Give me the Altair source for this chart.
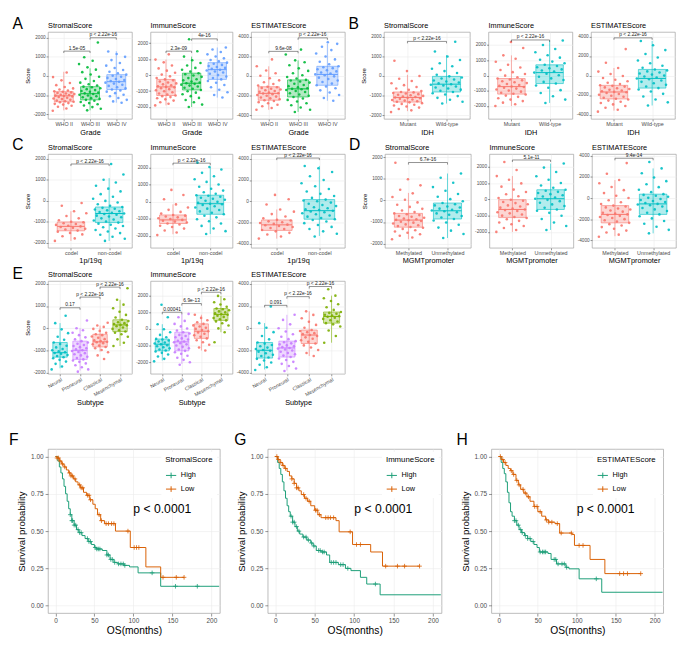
import json
import altair as alt
import pandas as pd

FONT = "Liberation Sans"

# ---------------- categories & colours ----------------
GRADE = ["WHO II", "WHO III", "WHO IV"]
IDH = ["Mutant", "Wild-type"]
CODEL = ["codel", "non-codel"]
MGMT = ["Methylated", "Unmethylated"]
SUBTYPE = ["Neural", "Proneural", "Classical", "Mesenchymal"]
COL3 = ["#F8766D", "#00BA38", "#619CFF"]
COL2 = ["#F8766D", "#00BFC4"]
COL4 = ["#00BFC4", "#C77CFF", "#F8766D", "#7CAE00"]
KM_COLORS = ["#1B9E77", "#D95F02"]

TICK_2K = [-2000, -1000, 0, 1000, 2000]
TICK_4K = [-4000, -2000, 0, 2000, 4000]

# ---------------- A: Grade ----------------
A_STR_BOX = [[-1800, -1350, -1040, -820, 220], [-1800, -1250, -930, -560, 400], [-1400, -710, -300, 70, 1300]]
A_STR_PTS = [
    [-1820, -1700, -1610, -1560, -1500, -1460, -1420, -1380, -1350, -1320, -1290, -1250, -1210, -1180, -1140, -1100, -1070, -1050, -1030, -1000, -980, -950, -920, -890, -860, -830, -800, -760, -710, -650, -580, -480, -370, -230, -60, 180],
    [-1800, -1720, -1630, -1550, -1480, -1420, -1360, -1300, -1250, -1200, -1160, -1110, -1060, -1020, -980, -940, -910, -870, -830, -790, -740, -690, -640, -590, -560, -500, -430, -350, -260, -150, -40, 80, 200, 330, 450, 620, 800, 980, 1750],
    [-1400, -1330, -1250, -1150, -1060, -980, -900, -820, -760, -710, -650, -590, -520, -460, -400, -350, -300, -260, -210, -160, -100, -40, 10, 70, 140, 220, 310, 420, 540, 680, 830, 1000, 1150, 1280]]
A_STR_SIG = [[1, 2, 1300, "1.5e-05"], [2, 3, 2000, "p < 2.22e-16"]]

A_IMM_BOX = [[-1900, -1280, -740, -270, 970], [-2000, -930, -510, 120, 1160], [-1410, -270, 340, 780, 1730]]
A_IMM_PTS = [
    [-1900, -1800, -1700, -1600, -1520, -1450, -1380, -1320, -1280, -1220, -1150, -1080, -1010, -950, -880, -820, -770, -740, -700, -640, -580, -520, -460, -400, -330, -270, -180, -80, 30, 150, 280, 420, 600, 800, 970, 1300],
    [-2000, -1850, -1700, -1560, -1430, -1320, -1200, -1100, -1010, -930, -860, -790, -720, -660, -600, -550, -510, -460, -400, -330, -260, -190, -110, -30, 50, 120, 220, 330, 450, 600, 760, 930, 1160, 1500, 2250],
    [-1410, -1250, -1080, -920, -760, -620, -480, -370, -270, -180, -90, 0, 80, 160, 230, 290, 340, 390, 450, 510, 570, 640, 710, 780, 860, 950, 1050, 1170, 1300, 1450, 1600, 1730]]
A_IMM_SIG = [[1, 2, 1500, "2.3e-09"], [2, 3, 2270, "4e-16"]]

A_EST_BOX = [[-3460, -2480, -1780, -1100, 990], [-3680, -2150, -1320, -400, 1600], [-2540, -950, 160, 990, 3290]]
A_EST_PTS = [
    [-3460, -3280, -3100, -2950, -2800, -2680, -2570, -2480, -2380, -2290, -2200, -2110, -2020, -1940, -1860, -1800, -1760, -1700, -1620, -1540, -1460, -1380, -1300, -1220, -1150, -1100, -980, -820, -640, -450, -230, 20, 280, 560, 990, 1700],
    [-3680, -3450, -3220, -3000, -2800, -2620, -2450, -2300, -2150, -2020, -1890, -1760, -1640, -1530, -1430, -1360, -1320, -1250, -1150, -1040, -920, -800, -680, -560, -470, -400, -260, -100, 80, 280, 520, 780, 1100, 1400, 1600, 2200, 2700],
    [-2540, -2250, -1950, -1700, -1470, -1250, -1080, -950, -780, -620, -460, -310, -170, -40, 80, 160, 250, 360, 470, 580, 690, 800, 900, 990, 1200, 1450, 1700, 2000, 2300, 2650, 3000, 3290, 3450]]
A_EST_SIG = [[1, 2, 2520, "9.6e-08"], [2, 3, 3900, "p < 2.22e-16"]]

# ---------------- B: IDH ----------------
B_STR_BOX = [[-1800, -1335, -1100, -820, 60], [-1410, -820, -420, -20, 1070]]
B_STR_PTS = [
    [-1850, -1760, -1690, -1620, -1560, -1510, -1470, -1430, -1390, -1350, -1320, -1290, -1260, -1230, -1200, -1170, -1140, -1120, -1100, -1080, -1050, -1020, -990, -960, -930, -900, -870, -840, -820, -770, -710, -640, -560, -470, -370, -260, -140, 0, 250, 780],
    [-1410, -1320, -1220, -1120, -1030, -950, -880, -820, -760, -700, -640, -590, -540, -490, -450, -420, -380, -330, -280, -230, -180, -130, -80, -20, 60, 150, 250, 370, 500, 650, 820, 1000, 1250, 1750]]
B_STR_SIG = [[1, 2, 1770, "p < 2.22e-16"]]

B_IMM_BOX = [[-2000, -1220, -730, -200, 1320], [-1800, -530, 190, 700, 2290]]
B_IMM_PTS = [
    [-2000, -1890, -1780, -1680, -1580, -1490, -1400, -1320, -1250, -1200, -1130, -1060, -990, -920, -860, -800, -750, -720, -680, -620, -560, -500, -440, -380, -320, -260, -200, -110, -10, 100, 220, 360, 520, 700, 900, 1100, 1320, 1800, 2200],
    [-1800, -1580, -1360, -1150, -960, -800, -660, -530, -420, -300, -190, -80, 20, 110, 190, 260, 330, 400, 470, 540, 620, 700, 800, 910, 1030, 1170, 1330, 1520, 1740, 2000, 2290]]
B_IMM_SIG = [[1, 2, 2330, "p < 2.22e-16"]]

B_EST_BOX = [[-3600, -2400, -1690, -1010, 770], [-3070, -1290, -300, 620, 3540]]
B_EST_PTS = [
    [-3700, -3500, -3300, -3120, -2960, -2820, -2690, -2570, -2460, -2380, -2280, -2180, -2080, -1980, -1890, -1800, -1720, -1680, -1620, -1540, -1460, -1380, -1300, -1220, -1140, -1060, -1000, -880, -740, -590, -430, -250, -60, 150, 400, 770, 1300, 2700],
    [-3070, -2750, -2450, -2150, -1880, -1640, -1440, -1290, -1120, -960, -800, -650, -510, -390, -300, -210, -110, -10, 90, 200, 310, 420, 520, 620, 800, 1000, 1250, 1530, 1850, 2200, 2600, 3100, 3540]]
B_EST_SIG = [[1, 2, 3850, "p < 2.22e-16"]]

# ---------------- C: 1p/19q ----------------
C_STR_BOX = [[-1900, -1420, -1210, -1000, -490], [-1900, -1030, -600, -290, 1080]]
C_STR_PTS = [
    [-1900, -1780, -1680, -1590, -1520, -1460, -1410, -1360, -1320, -1280, -1240, -1210, -1180, -1140, -1100, -1060, -1020, -990, -920, -830, -720, -590, -490, -230, -100],
    [-1900, -1800, -1700, -1610, -1530, -1450, -1380, -1310, -1250, -1190, -1130, -1080, -1030, -980, -930, -880, -830, -780, -740, -700, -660, -620, -600, -570, -530, -490, -450, -410, -370, -330, -290, -230, -160, -80, 0, 100, 200, 320, 450, 580, 720, 870, 1000, 1250, 1750]]
C_STR_SIG = [[1, 2, 1750, "p < 2.22e-16"]]

C_IMM_BOX = [[-1900, -1270, -1060, -770, -150], [-1890, -730, -110, 390, 2040]]
C_IMM_PTS = [
    [-1950, -1800, -1680, -1570, -1480, -1400, -1330, -1270, -1210, -1160, -1110, -1060, -1010, -960, -910, -860, -810, -770, -690, -590, -470, -330, -150, 150, 400, 700],
    [-1890, -1720, -1560, -1410, -1270, -1140, -1020, -910, -820, -730, -640, -560, -480, -400, -330, -260, -190, -140, -110, -60, 0, 60, 120, 180, 240, 300, 360, 390, 470, 560, 660, 770, 890, 1020, 1170, 1330, 1500, 1700, 1900, 2040, 2300]]
C_IMM_SIG = [[1, 2, 2270, "p < 2.22e-16"]]

C_EST_BOX = [[-3500, -2730, -2210, -1750, -770], [-3250, -1680, -880, 160, 3320]]
C_EST_PTS = [
    [-3500, -3300, -3120, -2960, -2820, -2700, -2600, -2500, -2410, -2320, -2240, -2190, -2120, -2040, -1960, -1880, -1800, -1740, -1600, -1420, -1200, -970, -770, -300, 200, 600],
    [-3300, -3050, -2820, -2600, -2400, -2220, -2050, -1900, -1760, -1680, -1560, -1440, -1330, -1220, -1120, -1030, -950, -880, -820, -740, -650, -550, -450, -340, -230, -120, 0, 80, 160, 320, 500, 700, 920, 1160, 1420, 1700, 2000, 2350, 2750, 3100, 3320]]
C_EST_SIG = [[1, 2, 4060, "p < 2.22e-16"]]

# ---------------- D: MGMT promoter ----------------
D_STR_BOX = [[-1800, -1240, -910, -600, 350], [-1740, -860, -480, -120, 1250]]
D_STR_PTS = [
    [-1800, -1720, -1640, -1570, -1500, -1440, -1380, -1320, -1270, -1230, -1190, -1150, -1110, -1070, -1030, -990, -950, -920, -900, -870, -840, -800, -760, -720, -680, -640, -600, -540, -470, -390, -300, -200, -90, 30, 160, 330, 500, 700, 980, 1750],
    [-1740, -1560, -1400, -1260, -1130, -1020, -930, -860, -790, -720, -660, -600, -550, -500, -470, -430, -380, -330, -280, -230, -180, -120, -40, 60, 170, 300, 450, 620, 820, 1050, 1250]]
D_STR_SIG = [[1, 2, 1760, "6.7e-16"]]

D_IMM_BOX = [[-2000, -1120, -620, -20, 1430], [-1880, -620, 40, 590, 2200]]
D_IMM_PTS = [
    [-2000, -1880, -1760, -1640, -1530, -1420, -1320, -1220, -1150, -1080, -1000, -930, -860, -790, -720, -660, -620, -570, -510, -440, -370, -300, -230, -160, -90, -20, 80, 190, 310, 450, 600, 780, 980, 1200, 1430, 1800, 2300],
    [-1880, -1640, -1420, -1210, -1010, -830, -700, -620, -520, -410, -310, -210, -110, -30, 40, 110, 180, 250, 320, 390, 460, 530, 590, 710, 850, 1010, 1200, 1420, 1680, 1950, 2200]]
D_IMM_SIG = [[1, 2, 2420, "5.1e-11"]]

D_EST_BOX = [[-3600, -2340, -1540, -710, 1700], [-3330, -1540, -550, 370, 2800]]
D_EST_PTS = [
    [-3650, -3450, -3250, -3070, -2900, -2740, -2590, -2460, -2340, -2220, -2100, -1990, -1880, -1780, -1680, -1600, -1540, -1470, -1380, -1280, -1180, -1080, -980, -880, -790, -710, -560, -390, -200, 0, 220, 470, 750, 1050, 1400, 1700, 2300, 3300],
    [-3330, -3000, -2700, -2420, -2160, -1920, -1720, -1540, -1380, -1220, -1070, -930, -800, -680, -600, -550, -470, -380, -280, -180, -80, 20, 120, 220, 300, 370, 560, 780, 1030, 1300, 1600, 1950, 2350, 2800, 3400]]
D_EST_SIG = [[1, 2, 3760, "9.4e-14"]]

# ---------------- E: Subtype ----------------
E_STR_BOX = [[-1800, -1300, -1100, -640, 230], [-1900, -1400, -990, -580, 0], [-1050, -840, -610, -270, 120], [-800, -150, 150, 380, 1280]]
E_STR_PTS = [
    [-1850, -1720, -1600, -1500, -1420, -1350, -1300, -1250, -1200, -1150, -1110, -1080, -1040, -990, -930, -860, -790, -710, -640, -520, -380, -220, -50, 230, 560],
    [-1950, -1850, -1750, -1660, -1580, -1510, -1450, -1400, -1340, -1280, -1220, -1170, -1120, -1070, -1020, -990, -950, -900, -850, -800, -750, -700, -640, -580, -500, -410, -310, -200, -90, 0, 350],
    [-1380, -1220, -1080, -980, -900, -840, -780, -720, -670, -630, -610, -580, -540, -490, -430, -370, -310, -270, -200, -120, -30, 60, 120, 250],
    [-800, -650, -500, -380, -270, -200, -150, -90, -30, 30, 90, 130, 150, 190, 230, 270, 320, 380, 480, 600, 740, 900, 1060, 1280, 1800]]
E_STR_SIG = [[1, 2, 920, "0.17"], [2, 3, 1400, "p < 2.22e-16"], [3, 4, 1850, "p < 2.22e-16"]]

E_IMM_BOX = [[-1900, -1320, -920, -610, 280], [-2100, -1320, -780, -200, 900], [-1300, -570, -140, 300, 850], [-200, 510, 870, 1220, 1980]]
E_IMM_PTS = [
    [-1950, -1800, -1660, -1540, -1440, -1360, -1300, -1240, -1170, -1100, -1040, -980, -930, -880, -820, -760, -700, -640, -600, -500, -360, -200, -20, 280, 700, 1450],
    [-2150, -2000, -1860, -1730, -1610, -1500, -1400, -1320, -1240, -1160, -1080, -1000, -930, -860, -800, -760, -710, -640, -570, -500, -430, -360, -280, -200, -100, 20, 150, 300, 480, 700, 900],
    [-1300, -1120, -950, -800, -680, -570, -470, -380, -290, -210, -140, -70, 0, 70, 140, 210, 300, 400, 520, 660, 850],
    [-800, -200, 30, 200, 340, 450, 510, 580, 650, 720, 790, 850, 880, 930, 990, 1050, 1120, 1180, 1220, 1330, 1460, 1600, 1780, 1980]]
E_IMM_SIG = [[1, 2, 1000, "0.00041"], [2, 3, 1520, "6.9e-13"], [3, 4, 2200, "p < 2.22e-16"]]

E_EST_BOX = [[-3700, -2680, -1980, -1280, 460], [-3800, -2590, -1770, -1160, 1210], [-2500, -1370, -610, -160, 1520], [-1300, 460, 1060, 1460, 2930]]
E_EST_PTS = [
    [-3750, -3500, -3280, -3080, -2900, -2750, -2630, -2500, -2380, -2250, -2120, -2020, -1950, -1860, -1740, -1620, -1500, -1380, -1280, -1000, -700, -350, 50, 460, 1950],
    [-3850, -3620, -3400, -3200, -3020, -2860, -2720, -2590, -2460, -2340, -2220, -2110, -2000, -1910, -1830, -1770, -1700, -1620, -1540, -1450, -1360, -1260, -1160, -980, -770, -540, -290, 0, 350, 750, 1210],
    [-2500, -2220, -1960, -1730, -1540, -1370, -1220, -1080, -950, -820, -700, -610, -530, -440, -350, -250, -160, 50, 300, 580, 900, 1200, 1520],
    [-1300, -700, -200, 150, 350, 460, 600, 720, 840, 950, 1030, 1080, 1140, 1220, 1300, 1380, 1460, 1650, 1880, 2150, 2450, 2700, 2930, 3500]]
E_EST_SIG = [[1, 2, 2060, "0.091"], [2, 3, 2840, "p < 2.22e-16"], [3, 4, 3750, "p < 2.22e-16"]]

# ---------------- F/G/H: Kaplan-Meier (step points, censor times) ----------------
F_HIGH_T = [0, 3, 5, 7, 9, 11, 13, 15, 17, 19, 21, 24, 27, 30, 34, 38, 42, 46, 50, 53, 60, 66, 70, 75, 80, 88, 95, 106, 135, 210]
F_HIGH_S = [1.0, 0.97, 0.93, 0.89, 0.85, 0.80, 0.75, 0.70, 0.65, 0.61, 0.57, 0.54, 0.51, 0.49, 0.47, 0.45, 0.43, 0.41, 0.39, 0.38, 0.37, 0.34, 0.31, 0.29, 0.28, 0.27, 0.26, 0.22, 0.13, 0.13]
F_HIGH_C = [19, 21, 22, 24, 26, 29, 31, 33, 41, 43, 45, 51, 53, 55, 57, 66, 68, 71, 73, 76, 81, 84, 87, 89, 124, 154, 182]
F_LOW_T = [0, 2, 5, 8, 11, 14, 17, 20, 23, 26, 29, 32, 36, 40, 44, 48, 51, 54, 58, 63, 77, 96, 116, 135, 165]
F_LOW_S = [1.0, 0.99, 0.97, 0.95, 0.93, 0.91, 0.89, 0.87, 0.85, 0.83, 0.81, 0.79, 0.76, 0.74, 0.71, 0.68, 0.65, 0.61, 0.57, 0.55, 0.50, 0.39, 0.26, 0.19, 0.19]
F_LOW_C = [2, 4, 6, 9, 12, 18, 20, 22, 25, 31, 33, 35, 41, 43, 45, 56, 59, 65, 68, 72, 75, 93, 101, 104, 107, 138, 155, 165]

G_HIGH_T = [0, 3, 5, 7, 9, 11, 13, 15, 17, 19, 22, 25, 28, 31, 35, 40, 45, 48, 52, 58, 65, 69, 80, 89, 96, 108, 116, 133, 210]
G_HIGH_S = [1.0, 0.96, 0.92, 0.88, 0.83, 0.77, 0.72, 0.67, 0.63, 0.60, 0.56, 0.53, 0.50, 0.48, 0.46, 0.44, 0.42, 0.40, 0.37, 0.36, 0.34, 0.29, 0.275, 0.25, 0.235, 0.19, 0.145, 0.073, 0.073]
G_HIGH_C = [20, 22, 24, 27, 30, 36, 39, 42, 46, 49, 55, 57, 60, 62, 71, 74, 77, 83, 86, 92, 127]
G_LOW_T = [0, 3, 6, 9, 12, 15, 18, 21, 24, 27, 30, 33, 37, 41, 45, 50, 54, 58, 77, 81, 98, 121, 136, 183]
G_LOW_S = [1.0, 0.98, 0.96, 0.94, 0.92, 0.90, 0.87, 0.85, 0.82, 0.79, 0.77, 0.745, 0.72, 0.70, 0.67, 0.64, 0.61, 0.59, 0.57, 0.495, 0.41, 0.36, 0.265, 0.265]
G_LOW_C = [2, 4, 7, 10, 13, 21, 24, 27, 29, 36, 39, 43, 51, 53, 56, 64, 67, 70, 74, 95, 103, 108, 140, 155, 164, 183]

H_HIGH_T = [0, 3, 5, 7, 9, 11, 13, 15, 17, 20, 23, 26, 29, 33, 37, 41, 45, 49, 52, 63, 67, 74, 86, 90, 103, 132, 210]
H_HIGH_S = [1.0, 0.96, 0.92, 0.885, 0.83, 0.76, 0.69, 0.63, 0.60, 0.57, 0.54, 0.51, 0.49, 0.47, 0.45, 0.43, 0.41, 0.39, 0.36, 0.35, 0.31, 0.28, 0.257, 0.247, 0.18, 0.09, 0.09]
H_HIGH_C = [20, 22, 25, 28, 30, 34, 37, 40, 44, 53, 56, 58, 60, 71, 73, 76, 81, 84, 87, 125]
H_LOW_T = [0, 3, 6, 9, 12, 15, 18, 22, 25, 28, 32, 36, 40, 45, 50, 55, 60, 64, 72, 78, 94, 97, 117, 136, 182]
H_LOW_S = [1.0, 0.98, 0.96, 0.94, 0.92, 0.905, 0.88, 0.84, 0.81, 0.78, 0.755, 0.73, 0.70, 0.665, 0.63, 0.60, 0.575, 0.56, 0.55, 0.487, 0.477, 0.404, 0.31, 0.215, 0.215]
H_LOW_C = [2, 5, 8, 16, 19, 23, 26, 31, 34, 38, 46, 49, 53, 61, 64, 68, 75, 80, 93, 103, 108, 155, 160, 165, 182]

P_TEXT = "p < 0.0001"
P_POS = [137, 0.645]

PLUS_PATH = "M-1,0L1,0M0,-1L0,1"
LEG_PATH = "M-1,0L1,0M0,-0.55L0,0.55"


def text_layer(txt, dx, dy, size, align, baseline):
    return alt.Chart(pd.DataFrame({"t": [txt]})).mark_text(
        fontSize=size, align=align, baseline=baseline, color="black",
        fontWeight="normal").encode(
        text="t:N", x=alt.value(dx), y=alt.value(dy))


def box_panel(title, cats, colors, box, pts, sig, ydom, yvals, xtitle, w, h,
              ytitle=None, letter=None, letter_dy=-9, title_dy=-2, rotate=False):
    n = len(cats)
    prow = []
    for i, vals in enumerate(pts):
        for k, v in enumerate(vals):
            j = ((k * 0.618034 + i * 0.37) % 1.0) * 2 - 1
            prow.append({"colour": colors[i], "xj": i + 1 + 0.42 * j, "score": v})
    pdf = pd.DataFrame(prow)
    brow = []
    for i, (lo, q1, md, q3, hi) in enumerate(box):
        brow.append({"colour": colors[i], "x": i + 1, "xl": i + 1 - 0.36, "xr": i + 1 + 0.36,
                     "lo": lo, "q1": q1, "md": md, "q3": q3, "hi": hi})
    bdf = pd.DataFrame(brow)
    tip = 0.022 * (ydom[1] - ydom[0])
    srow, trow = [], []
    for a, b, y, lab in sig:
        srow.append({"x": a, "x2": b, "y": y, "y2": y})
        srow.append({"x": a, "x2": a, "y": y - tip, "y2": y})
        srow.append({"x": b, "x2": b, "y": y - tip, "y2": y})
        trow.append({"x": (a + b) / 2, "y": y, "label": lab})
    sdf = pd.DataFrame(srow)
    tdf = pd.DataFrame(trow)

    xs = alt.Scale(domain=[0.4, n + 0.6], nice=False, zero=False)
    ys = alt.Scale(domain=ydom, nice=False, zero=False)
    xaxis_kw = dict(values=list(range(1, n + 1)),
                    labelExpr=json.dumps(cats) + "[datum.value - 1]",
                    title=xtitle, grid=True, tickSize=2, labelPadding=1,
                    labelFontSize=5.5, titleFontSize=7.5, titlePadding=1,
                    titleFontWeight="normal",
                    labelOverlap=False, labelBaseline="top")
    if rotate:
        xaxis_kw.update(labelAngle=330, labelAlign="right", labelFontSize=5.3)
    xaxis = alt.Axis(**xaxis_kw)
    yaxis = alt.Axis(values=yvals, labelExpr="'' + datum.value", title=ytitle,
                     grid=True, tickSize=2, labelPadding=1, labelFontSize=4.8,
                     titleFontSize=6.2, titlePadding=3, titleFontWeight="normal")

    def X(f):
        return alt.X(f, scale=xs, axis=xaxis)

    def Y(f):
        return alt.Y(f, scale=ys, axis=yaxis)

    col = alt.Color("colour:N", scale=None)
    points = alt.Chart(pdf).mark_circle(size=7, opacity=0.9).encode(
        x=X("xj:Q"), y=Y("score:Q"), color=col)
    whisk = alt.Chart(bdf).mark_rule(strokeWidth=0.6).encode(
        x=X("x:Q"), y=Y("lo:Q"), y2="hi:Q", color=col)
    boxes = alt.Chart(bdf).mark_rect(fillOpacity=0.3, strokeWidth=0.6).encode(
        x=X("xl:Q"), x2="xr:Q", y=Y("q1:Q"), y2="q3:Q",
        fill=alt.Fill("colour:N", scale=None),
        stroke=alt.Stroke("colour:N", scale=None))
    med = alt.Chart(bdf).mark_rule(strokeWidth=1).encode(
        x=X("xl:Q"), x2="xr:Q", y=Y("md:Q"), color=col)
    brk = alt.Chart(sdf).mark_rule(color="#222222", strokeWidth=0.5).encode(
        x=X("x:Q"), x2="x2:Q", y=Y("y:Q"), y2="y2:Q")
    btxt = alt.Chart(tdf).mark_text(fontSize=5, baseline="bottom", dy=-0.5,
                                    color="#222222").encode(
        x=X("x:Q"), y=Y("y:Q"), text="label:N")
    layers = [points, whisk, boxes, med, brk, btxt,
              text_layer(title, 0, title_dy, 7.5, "left", "bottom")]
    if letter:
        layers.append(text_layer(letter, -31, letter_dy, 16, "center", "middle"))
    return alt.layer(*layers).properties(width=w, height=h)


def step_at(ts, ss, t):
    v = ss[0]
    for tt, s in zip(ts, ss):
        if tt <= t:
            v = s
    return v


def km_panel(name, ht, hs, hc, lt, ls, lc, letter, w, h, letter_dx=-31):
    crow = [{"grp": "High", "t": t, "s": s} for t, s in zip(ht, hs)]
    crow += [{"grp": "Low", "t": t, "s": s} for t, s in zip(lt, ls)]
    cdf = pd.DataFrame(crow)
    drow = [{"grp": "High", "t": t, "s": step_at(ht, hs, t)} for t in hc]
    drow += [{"grp": "Low", "t": t, "s": step_at(lt, ls, t)} for t in lc]
    ddf = pd.DataFrame(drow)
    xs = alt.Scale(domain=[-9.5, 211], nice=False, zero=False)
    ys = alt.Scale(domain=[-0.05, 1.05], nice=False, zero=False)
    cs = alt.Scale(domain=["High", "Low"], range=KM_COLORS)
    xaxis = alt.Axis(values=[0, 50, 100, 150, 200], title="OS(months)", grid=True,
                     tickSize=3, labelPadding=2, labelFontSize=6.6, titleFontSize=10.5,
                     titlePadding=1, titleFontWeight="normal")
    yaxis = alt.Axis(values=[0, 0.25, 0.5, 0.75, 1.0], format=".2f",
                     title="Survival probability", grid=True, tickSize=3,
                     labelPadding=2, labelFontSize=6.6, titleFontSize=9.8, titlePadding=4,
                     titleFontWeight="normal")
    leg = alt.Legend(title=name, orient="top-right", offset=3, padding=4,
                     fillColor="white", titleFontSize=8, titleFontWeight="normal",
                     titleColor="black", labelFontSize=7.5, labelColor="black",
                     symbolType=LEG_PATH, symbolSize=110, symbolStrokeWidth=1,
                     rowPadding=3, titlePadding=6)
    col = alt.Color("grp:N", scale=cs, legend=leg)
    line = alt.Chart(cdf).mark_line(interpolate="step-after", strokeWidth=1).encode(
        x=alt.X("t:Q", scale=xs, axis=xaxis), y=alt.Y("s:Q", scale=ys, axis=yaxis),
        color=col)
    cens = alt.Chart(ddf).mark_point(shape=PLUS_PATH, size=22, strokeWidth=0.8,
                                     filled=False, opacity=1).encode(
        x=alt.X("t:Q", scale=xs, axis=xaxis), y=alt.Y("s:Q", scale=ys, axis=yaxis),
        color=col)
    ptxt = alt.Chart(pd.DataFrame({"t": [P_POS[0]], "s": [P_POS[1]], "label": [P_TEXT]})).mark_text(
        fontSize=12.5, color="black").encode(
        x=alt.X("t:Q", scale=xs, axis=xaxis), y=alt.Y("s:Q", scale=ys, axis=yaxis),
        text="label:N")
    let = text_layer(letter, letter_dx, -9, 16, "center", "middle")
    return alt.layer(line, cens, ptxt, let).properties(width=w, height=h)


H1, H2, H3, H4 = 89, 96, 95, 168
WA = [86, 84, 96]
WB = [88, 86, 86]

row1 = alt.hconcat(
    box_panel("StromalScore", GRADE, COL3, A_STR_BOX, A_STR_PTS, A_STR_SIG, [-2250, 2300], TICK_2K, "Grade", WA[0], H1, ytitle="Score", letter="A", letter_dy=-8),
    box_panel("ImmuneScore", GRADE, COL3, A_IMM_BOX, A_IMM_PTS, A_IMM_SIG, [-2750, 2700], TICK_2K, "Grade", WA[1], H1),
    box_panel("ESTIMATEScore", GRADE, COL3, A_EST_BOX, A_EST_PTS, A_EST_SIG, [-4400, 4500], TICK_4K, "Grade", WA[2], H1),
    box_panel("StromalScore", IDH, COL2, B_STR_BOX, B_STR_PTS, B_STR_SIG, [-2200, 2250], TICK_2K, "IDH", WB[0], H1, ytitle="Score", letter="B", letter_dy=-8),
    box_panel("ImmuneScore", IDH, COL2, B_IMM_BOX, B_IMM_PTS, B_IMM_SIG, [-2850, 2850], TICK_2K, "IDH", WB[1], H1),
    box_panel("ESTIMATEScore", IDH, COL2, B_EST_BOX, B_EST_PTS, B_EST_SIG, [-4450, 4450], TICK_4K, "IDH", WB[2], H1),
    spacing=2)

row2 = alt.hconcat(
    box_panel("StromalScore", CODEL, COL2, C_STR_BOX, C_STR_PTS, C_STR_SIG, [-2230, 2220], TICK_2K, "1p/19q", WA[0], H2, ytitle="Score", letter="C", letter_dy=-9),
    box_panel("ImmuneScore", CODEL, COL2, C_IMM_BOX, C_IMM_PTS, C_IMM_SIG, [-2700, 2800], TICK_2K, "1p/19q", WA[1], H2),
    box_panel("ESTIMATEScore", CODEL, COL2, C_EST_BOX, C_EST_PTS, C_EST_SIG, [-4370, 4430], TICK_4K, "1p/19q", WA[2], H2),
    box_panel("StromalScore", MGMT, COL2, D_STR_BOX, D_STR_PTS, D_STR_SIG, [-2200, 2150], TICK_2K, "MGMTpromoter", WB[0], H2, ytitle="Score", letter="D", letter_dy=-9),
    box_panel("ImmuneScore", MGMT, COL2, D_IMM_BOX, D_IMM_PTS, D_IMM_SIG, [-2980, 2780], TICK_2K, "MGMTpromoter", WB[1], H2),
    box_panel("ESTIMATEScore", MGMT, COL2, D_EST_BOX, D_EST_PTS, D_EST_SIG, [-4700, 4150], TICK_4K, "MGMTpromoter", WB[2], H2),
    spacing=2)

row3 = alt.hconcat(
    box_panel("StromalScore", SUBTYPE, COL4, E_STR_BOX, E_STR_PTS, E_STR_SIG, [-2050, 2120], TICK_2K, "Subtype", WA[0], H3, ytitle="Score", letter="E", letter_dy=-7, rotate=True),
    box_panel("ImmuneScore", SUBTYPE, COL4, E_IMM_BOX, E_IMM_PTS, E_IMM_SIG, [-2700, 2870], TICK_2K, "Subtype", WA[1], H3, rotate=True),
    box_panel("ESTIMATEScore", SUBTYPE, COL4, E_EST_BOX, E_EST_PTS, E_EST_SIG, [-4100, 4240], TICK_4K, "Subtype", WA[2], H3, rotate=True),
    spacing=2)

row4 = alt.hconcat(
    km_panel("StromalScore", F_HIGH_T, F_HIGH_S, F_HIGH_C, F_LOW_T, F_LOW_S, F_LOW_C, "F", 176, H4, letter_dx=-35),
    km_panel("ImmuneScore", G_HIGH_T, G_HIGH_S, G_HIGH_C, G_LOW_T, G_LOW_S, G_LOW_C, "G", 178, H4, letter_dx=-28),
    km_panel("ESTIMATEScore", H_HIGH_T, H_HIGH_S, H_HIGH_C, H_LOW_T, H_LOW_S, H_LOW_C, "H", 176, H4, letter_dx=-30),
    spacing=12).resolve_scale(color="independent")

top = alt.vconcat(row1, row2, row3, spacing=0)

chart = alt.vconcat(top, row4, spacing=26).resolve_scale(
    color="independent"
).properties(
    padding={"left": 0, "top": 0, "right": 0, "bottom": 0}
).configure(font=FONT, background="white").configure_view(
    stroke="#9E9E9E", strokeWidth=0.7
).configure_axis(
    domain=False, gridColor="#EBEBEB", gridWidth=0.6, labelColor="#4D4D4D",
    tickColor="#4D4D4D", tickWidth=0.6, titleFontWeight="normal", titleColor="black",
    labelFont=FONT, titleFont=FONT
).configure_legend(labelFont=FONT, titleFont=FONT)

chart.save("out.html", embed_options={"renderer": "svg", "actions": False})
